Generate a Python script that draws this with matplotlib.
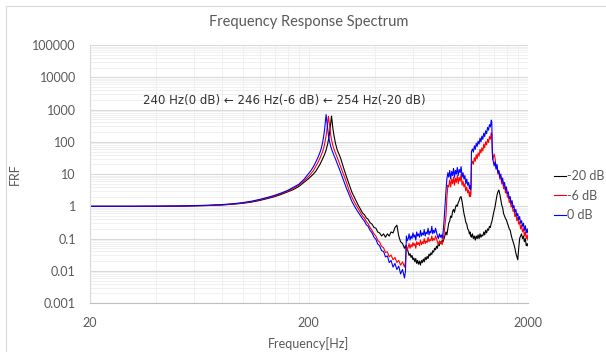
import matplotlib
matplotlib.use("Agg")
import matplotlib.pyplot as plt
from matplotlib.ticker import FixedLocator, FixedFormatter, NullFormatter
from matplotlib.patches import Rectangle

# frequency axis [Hz], shared by all three measurements
freq_hz = [20, 25, 30, 35, 40, 50, 60, 70, 80, 90, 100, 110, 120, 130, 140, 150,
           160, 170, 180, 190, 200, 205, 210, 215, 220, 225, 228, 231, 234, 236,
           238, 240, 242, 244, 246, 248, 250, 252, 254, 256, 258, 261, 265, 270,
           275, 280, 288, 296, 305, 315, 325, 335,
           # 345 - 553
           345, 352, 359, 366, 373, 381, 389, 397, 405, 413, 421, 430, 439, 448,
           457, 466, 475, 485, 495, 505, 515, 525, 536, 547, 553,
           # 558 - 829
           558, 563, 569, 574, 580, 586, 592, 598, 604, 610, 616, 622, 628, 634,
           641, 647, 654, 660, 667, 673, 680, 687, 694, 701, 708, 715, 722, 729,
           736, 743, 751, 758, 766, 773, 781, 789, 797, 805, 813, 821, 829,
           # 846 - 1100
           846, 854, 863, 871, 880, 889, 898, 907, 916, 925, 934, 943, 953, 962,
           972, 982, 992, 1002, 1012, 1022, 1032, 1042, 1053, 1063, 1074, 1082,
           1090, 1095, 1100,
           # 1106 - 1369
           1106, 1117, 1128, 1140, 1151, 1163, 1174, 1186, 1198, 1210, 1222, 1234,
           1246, 1259, 1271, 1284, 1297, 1310, 1323, 1336, 1349, 1362, 1369,
           # 1376 - 2000
           1376, 1383, 1390, 1404, 1418, 1432, 1446, 1460, 1475, 1490, 1505, 1520,
           1535, 1550, 1566, 1581, 1597, 1613, 1629, 1645, 1662, 1678, 1695, 1712,
           1729, 1746, 1764, 1781, 1799, 1817, 1835, 1853, 1872, 1891, 1910, 1929,
           1948, 1967, 1987, 2000]

# 0 dB (peak 240 Hz)
frf_0db = [1.0, 1.0, 1.0, 1.01, 1.01, 1.02, 1.05, 1.08, 1.13, 1.2, 1.3, 1.45, 1.65,
           1.9, 2.2, 2.6, 3.1, 3.9, 4.8, 6.8, 10.5, 13, 17, 23, 32, 47, 62, 90, 150,
           230, 400, 700, 420, 240, 160, 115, 90, 72, 60, 52, 45, 37, 29, 21, 15,
           11, 6.5, 3.9, 2.4, 1.4, 0.95, 0.68,
           0.50, 0.41, 0.35, 0.27, 0.24, 0.18, 0.15, 0.11, 0.095, 0.068, 0.060,
           0.042, 0.040, 0.027, 0.029, 0.018, 0.021, 0.013, 0.017, 0.011, 0.014,
           0.008, 0.011, 0.006, 0.010,
           0.12, 0.085, 0.10, 0.14, 0.09, 0.12, 0.10, 0.15, 0.11, 0.13,
           0.09, 0.16, 0.12, 0.14, 0.11, 0.18, 0.12, 0.15, 0.13, 0.19,
           0.12, 0.16, 0.14, 0.21, 0.13, 0.17, 0.15, 0.24, 0.14, 0.18,
           0.15, 0.21, 0.16, 0.12, 0.10, 0.14, 0.11, 0.13, 0.10, 0.16, 0.35,
           3.0, 7, 11, 8, 13, 7, 12, 9, 15, 8, 13, 10, 16, 9, 14, 11, 17, 8, 11, 7,
           9, 5, 7, 4.5, 5.5, 3.5, 4.5, 3.2, 3.8,
           50, 60, 48, 75, 58, 90, 72, 105, 85, 130, 100, 150, 120, 185, 145, 220,
           180, 280, 230, 340, 290, 470, 420,
           70, 30, 25, 18, 24, 14, 20, 11, 13, 8, 10, 6, 7.5, 4.5, 5.5, 3.2, 4.0,
           2.4, 2.8, 1.7, 2.0, 1.2, 1.5, 0.9, 1.05, 0.65, 0.8, 0.5, 0.6, 0.38,
           0.48, 0.3, 0.36, 0.24, 0.3, 0.18, 0.25, 0.15, 0.2, 0.15]

# -6 dB (peak 246 Hz)
frf_6db = [1.0, 1.0, 1.0, 1.0, 1.01, 1.02, 1.04, 1.07, 1.11, 1.18, 1.27, 1.41, 1.6,
           1.83, 2.1, 2.5, 2.95, 3.6, 4.5, 6.1, 8.5, 10.5, 12.8, 17, 22.5, 31, 39,
           48, 64, 82, 112, 155, 235, 400, 620, 390, 240, 160, 118, 92, 75, 58, 44,
           32, 23, 17, 10, 6, 3.2, 1.9, 1.25, 0.88,
           0.62, 0.50, 0.43, 0.34, 0.29, 0.22, 0.18, 0.14, 0.12, 0.088, 0.078,
           0.057, 0.052, 0.037, 0.039, 0.027, 0.031, 0.022, 0.026, 0.018, 0.021,
           0.015, 0.019, 0.013, 0.02,
           0.06, 0.045, 0.055, 0.07, 0.05, 0.065, 0.055, 0.075, 0.06, 0.07,
           0.05, 0.08, 0.065, 0.075, 0.06, 0.09, 0.065, 0.08, 0.07, 0.10,
           0.07, 0.085, 0.075, 0.11, 0.08, 0.095, 0.085, 0.12, 0.085, 0.10,
           0.09, 0.12, 0.10, 0.08, 0.065, 0.085, 0.07, 0.08, 0.065, 0.09, 0.14,
           0.5, 1.8, 4.5, 4, 6.5, 4, 7, 5, 8, 4.5, 7.5, 5.5, 9, 5, 8, 6, 10, 4.5, 6,
           4, 5, 3, 4, 2.6, 3.2, 2.0, 2.8, 2.0, 2.4,
           20, 25, 20, 32, 25, 40, 30, 45, 36, 58, 45, 65, 52, 85, 65, 100, 80, 120,
           95, 145, 120, 190, 170,
           45, 28, 32, 42, 30, 16, 18, 10, 12, 7, 8.5, 5, 6, 3.5, 4.5, 2.6, 3.2,
           1.9, 2.2, 1.3, 1.6, 0.95, 1.15, 0.7, 0.8, 0.48, 0.6, 0.36, 0.45, 0.28,
           0.33, 0.2, 0.26, 0.16, 0.2, 0.12, 0.16, 0.1, 0.13, 0.09]

# -20 dB (peak 254 Hz)
frf_20db = [1.0, 1.0, 1.0, 1.0, 1.0, 1.01, 1.03, 1.06, 1.1, 1.16, 1.24, 1.36, 1.53,
            1.75, 2.0, 2.35, 2.8, 3.3, 4.1, 5.5, 7.3, 8.6, 10, 12, 15.5, 20, 24, 29,
            35, 40, 47, 55, 70, 85, 115, 160, 240, 380, 630, 400, 245, 150, 88, 55,
            41, 30, 16, 9, 5, 2.7, 1.75, 1.15,
            0.80, 0.62, 0.55, 0.44, 0.40, 0.31, 0.28, 0.22, 0.21, 0.16, 0.15, 0.12,
            0.14, 0.11, 0.14, 0.12, 0.16, 0.15, 0.22, 0.26, 0.12, 0.08, 0.07, 0.05,
            0.06,
            0.045, 0.05, 0.038, 0.03, 0.034, 0.026, 0.03, 0.022, 0.025, 0.019,
            0.024, 0.017, 0.021, 0.016, 0.02, 0.015, 0.021, 0.018, 0.023, 0.019,
            0.026, 0.022, 0.028, 0.024, 0.033, 0.029, 0.036, 0.032, 0.042, 0.038,
            0.05, 0.045, 0.058, 0.05, 0.07, 0.06, 0.08, 0.07, 0.09, 0.08, 0.10,
            0.16, 0.13, 0.2, 0.3, 0.35, 0.5, 0.45, 0.7, 0.8, 0.65, 0.9, 1.1, 1.0,
            1.3, 1.5, 1.9, 2.0, 1.4, 0.9, 0.6, 0.45, 0.32, 0.28, 0.2, 0.18, 0.14,
            0.16, 0.12, 0.13,
            0.11, 0.14, 0.1, 0.12, 0.09, 0.12, 0.1, 0.13, 0.1, 0.14, 0.11, 0.13,
            0.12, 0.16, 0.13, 0.18, 0.15, 0.2, 0.18, 0.24, 0.22, 0.3, 0.33,
            0.38, 0.45, 0.55, 0.75, 1.0, 1.5, 2.2, 2.8, 3.2, 2.4, 1.6, 1.1, 0.9,
            0.6, 0.5, 0.42, 0.38, 0.3, 0.25, 0.2, 0.18, 0.13, 0.1, 0.08, 0.065,
            0.05, 0.035, 0.028, 0.022, 0.05, 0.1, 0.12, 0.14, 0.1, 0.12, 0.08, 0.1,
            0.06, 0.07, 0.06]

series_labels = ["-20 dB", "-6 dB", "0 dB"]
series_colors = ["#000000", "#ff0000", "#0000ff"]

x_ticks = [20, 200, 2000]
x_tick_labels = ["20", "200", "2000"]
y_ticks = [0.001, 0.01, 0.1, 1, 10, 100, 1000, 10000, 100000]
y_tick_labels = ["0.001", "0.01", "0.1", "1", "10", "100", "1000", "10000", "100000"]

note = "240 Hz(0 dB) \u2190 246 Hz(-6 dB) \u2190 254 Hz(-20 dB)"

plt.rcParams['font.family'] = ['Lato', 'DejaVu Sans']
txt = "#595959"

fig = plt.figure(figsize=(6.06, 3.52), dpi=100)
# chart area border
fig.patches.append(Rectangle((6 / 606, -0.1), 1.2, 1.1 - 6 / 352, transform=fig.transFigure,
                             fill=False, edgecolor="#d9d9d9", lw=0.8))

ax = fig.add_axes([0.148, 0.139, 0.723, 0.733])
for vals, lab, col in zip([frf_20db, frf_6db, frf_0db], series_labels, series_colors):
    ax.plot(freq_hz, vals, color=col, lw=0.8, label=lab)

ax.set_xscale("log")
ax.set_yscale("log")
ax.set_xlim(20, 2000)
ax.set_ylim(0.001, 100000)

ax.xaxis.set_major_locator(FixedLocator(x_ticks))
ax.xaxis.set_major_formatter(FixedFormatter(x_tick_labels))
ax.xaxis.set_minor_locator(FixedLocator([20 * k for k in range(2, 10)] + [200 * k for k in range(2, 10)]))
ax.xaxis.set_minor_formatter(NullFormatter())
ax.yaxis.set_major_locator(FixedLocator(y_ticks))
ax.yaxis.set_major_formatter(FixedFormatter(y_tick_labels))
ax.yaxis.set_minor_locator(FixedLocator([10.0 ** e * k for e in range(-3, 5) for k in range(2, 10)]))
ax.yaxis.set_minor_formatter(NullFormatter())

ax.grid(True, which="major", axis="y", color="#d9d9d9", lw=0.8)
ax.grid(True, which="major", axis="x", color="#eeeeee", lw=0.6)
ax.grid(True, which="minor", color="#eeeeee", lw=0.6)
ax.set_axisbelow(True)
ax.tick_params(which="both", length=0, labelsize=9, colors=txt)
ax.tick_params(axis="y", pad=10)
ax.tick_params(axis="x", pad=10)
for s in ["top", "right"]:
    ax.spines[s].set_visible(False)
ax.spines["left"].set_color("#d9d9d9")
ax.spines["bottom"].set_color("#bfbfbf")

ax.set_title("Frequency Response Spectrum", fontsize=10.5, color=txt, pad=14)
ax.set_xlabel("Frequency[Hz]", fontsize=9, color=txt, labelpad=6)
ax.set_ylabel("FRF", fontsize=9, color=txt, labelpad=8)

ax.text(0.444, 0.787, note, transform=ax.transAxes, ha="center", va="center",
        fontsize=8.5, color="#333333", family=["DejaVu Sans"])

fig.legend(loc="upper left", bbox_to_anchor=(548 / 606, 1 - 164 / 352), frameon=False,
           fontsize=9, handlelength=0.9, handletextpad=0.15, labelspacing=0.6,
           borderpad=0, labelcolor=txt)

fig.savefig("out.png", dpi=100)
